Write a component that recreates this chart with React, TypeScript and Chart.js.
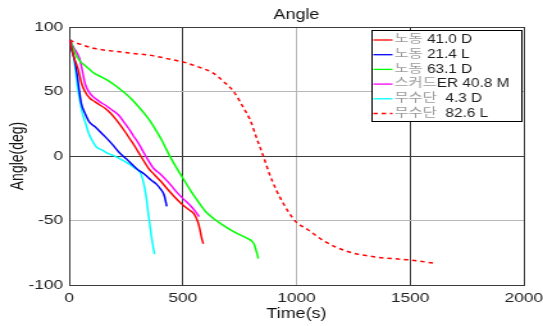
import React, { useEffect, useRef } from "react";
import { Chart, registerables } from "chart.js";

Chart.register(...registerables);

// Series: time (s) and angle (deg) for each trajectory
const t410D = [3, 10, 20, 38, 55, 70, 90, 114, 135, 158, 180, 202, 225, 246, 268, 290, 312, 349, 375, 405, 434, 465, 500, 530, 550, 566, 575, 582, 590];
const a410D = [90, 84, 77, 68, 56, 49.8, 45, 42, 39.5, 37, 33.5, 29.2, 24, 18.8, 13, 7.2, 0.8, -9.5, -14.5, -20, -26, -32, -38, -42, -45, -51, -57, -63, -68];

const t214L = [3, 12, 23, 35, 45, 53, 70, 90, 114, 135, 158, 190, 217, 250, 298, 330, 360, 385, 404, 415, 422, 429];
const a214L = [90, 82, 75, 63, 50, 41, 33, 26, 22.7, 19, 15, 9, 3.3, -2, -10, -14, -18.6, -22, -26, -29, -33, -39];

const t631D = [3, 15, 25, 38, 50, 67, 90, 111, 140, 166, 200, 229, 246, 275, 305, 335, 363, 385, 407, 425, 444, 475, 507, 535, 566, 600, 639, 680, 712, 750, 785, 807, 815, 822, 828, 832];
const a631D = [90, 85, 80, 76, 73, 70.5, 67, 64, 61.5, 59, 55, 51, 48.6, 44, 38.2, 32, 25.3, 19, 12.4, 6, -0.5, -10, -19, -27, -35, -43, -49, -54, -57.5, -61, -64, -66.5, -69, -73, -76.5, -79.5];

const t408M = [3, 20, 45, 58, 70, 90, 114, 135, 158, 190, 217, 240, 261, 283, 305, 334, 371, 404, 440, 478, 510, 536, 555, 572];
const a408M = [90, 84, 76, 66, 56, 49, 44.7, 42, 39.5, 35.5, 31.8, 26.5, 21.5, 15.5, 9.8, 0.8, -9.5, -14.5, -21, -29, -34.5, -39, -43, -47];

const t43D = [3, 12, 23, 38, 50, 60, 70, 85, 100, 120, 144, 165, 188, 215, 246, 270, 290, 309, 322, 331, 340, 346, 353, 360, 368, 375];
const a43D = [90, 82, 73, 52, 40, 32, 26.6, 18, 12.4, 7, 4.7, 2.5, 0.8, -1.5, -4.4, -7, -9.5, -12, -17, -24, -33, -42, -51, -60, -69, -76];

const t826L = [3, 19, 60, 107, 160, 210, 280, 360, 430, 507, 577, 636, 680, 724, 768, 796, 825, 854, 880, 910, 946, 983, 1002, 1049, 1122, 1225, 1356, 1500, 1602];
const a826L = [90, 88.5, 86, 83.5, 82, 81, 79.5, 78, 75.5, 72.6, 68.5, 64, 57.6, 49.8, 37, 28, 13.7, 0, -13.4, -26, -38, -48, -51.7, -57, -66, -74, -78.5, -80.6, -83];

const seriesLabels = ["노동 41.0 D", "노동 21.4 L", "노동 63.1 D", "스커드ER 40.8 M", "무수단  4.3 D", "무수단  82.6 L"];
const seriesColors = ["#ff0000", "#0000ff", "#00ff00", "#ff00ff", "#00ffff", "#ff0000"];

const xTickValues = [0, 500, 1000, 1500, 2000];
const yTickValues = [-100, -50, 0, 50, 100];

const DARK = "#3c3c3c";
const LIGHT = "#b8b8b8";
const HANGUL = /[\u1100-\u11FF\u3130-\u318F\uAC00-\uD7A3]/;
const FONT = "'Liberation Sans', Arial, sans-serif";

const toPoints = (t: number[], a: number[]) => t.map((x, i) => ({ x, y: a[i] }));

// Boxed legend drawn inside the upper-right corner of the plot area
const boxLegend = {
  id: "boxLegend",
  afterDraw(chart: any) {
    const { ctx, chartArea } = chart;
    const right = chartArea.right - 1;
    const width = 118;
    const left = right - width;
    const top = chartArea.top + 3;
    const height = 92;
    ctx.save();
    ctx.fillStyle = "#ffffff";
    ctx.fillRect(left, top, width, height);
    ctx.strokeStyle = "#000000";
    ctx.lineWidth = 1;
    ctx.setLineDash([]);
    ctx.strokeRect(left + 0.5, top + 0.5, width - 1, height - 1);
    ctx.font = "12px 'Liberation Sans', 'Noto Sans CJK KR', sans-serif";
    ctx.textBaseline = "middle";
    ctx.textAlign = "left";
    chart.data.datasets.forEach((ds: any, i: number) => {
      const y = top + 10 + i * 14.7;
      ctx.strokeStyle = ds.borderColor;
      ctx.lineWidth = 1.3;
      ctx.setLineDash(ds.borderDash || []);
      ctx.beginPath();
      ctx.moveTo(left + 1.5, y);
      ctx.lineTo(left + 16.5, y);
      ctx.stroke();
      ctx.setLineDash([]);
      let x = left + 18;
      for (const ch of Array.from(ds.label as string)) {
        ctx.fillStyle = HANGUL.test(ch) ? "#9a9a9a" : "#1e1e1e";
        ctx.fillText(ch, x, y);
        x += ctx.measureText(ch).width;
      }
    });
    ctx.restore();
  },
};

export default function App() {
  const canvasRef = useRef<HTMLCanvasElement | null>(null);

  useEffect(() => {
    document.body.style.margin = "0";
    const canvas = canvasRef.current;
    if (!canvas) return;
    const series = [
      toPoints(t410D, a410D),
      toPoints(t214L, a214L),
      toPoints(t631D, a631D),
      toPoints(t408M, a408M),
      toPoints(t43D, a43D),
      toPoints(t826L, a826L),
    ];
    const chart = new Chart(canvas, {
      type: "line",
      data: {
        datasets: series.map((data, i) => ({
          label: seriesLabels[i],
          data,
          borderColor: seriesColors[i],
          backgroundColor: seriesColors[i],
          borderWidth: 1.5,
          borderDash: i === 5 ? [3.5, 3] : [],
          pointRadius: 0,
          fill: false,
          cubicInterpolationMode: "monotone" as const,
        })),
      },
      options: {
        responsive: false,
        animation: false,
        devicePixelRatio: 1,
        layout: { padding: { left: 0, right: 15, top: 0, bottom: 0 } },
        plugins: {
          legend: { display: false },
          tooltip: { enabled: false },
          title: {
            display: true,
            text: "Angle",
            fullSize: false,
            color: "#111",
            font: { family: FONT, size: 14, weight: "normal" },
            padding: { top: 6.6, bottom: 3.6 },
          },
        },
        scales: {
          x: {
            type: "linear",
            min: 0,
            max: 2000,
            afterFit: (s: any) => { s.height = 41; s.paddingRight = 0; },
            afterBuildTicks: (s: any) => { s.ticks = xTickValues.map((v) => ({ value: v })); },
            ticks: {
              color: "#222",
              padding: 5,
              maxRotation: 0,
              callback: (v: any) => String(v),
              font: { family: FONT, size: 13.5 },
            },
            grid: {
              drawTicks: false,
              lineWidth: 1,
              color: (c: any) => (c.tick && c.tick.value === 1000 ? LIGHT : DARK),
            },
            border: { display: true, color: DARK, width: 1 },
            title: {
              display: true,
              text: "Time(s)",
              color: "#111",
              font: { family: FONT, size: 14 },
              padding: { top: 0, bottom: 3.6 },
            },
          },
          y: {
            type: "linear",
            min: -100,
            max: 100,
            afterFit: (s: any) => { s.width = 54; },
            afterBuildTicks: (s: any) => { s.ticks = yTickValues.map((v) => ({ value: v })); },
            ticks: {
              color: "#222",
              padding: 4.7,
              callback: (v: any) => String(v),
              font: { family: FONT, size: 13.5 },
            },
            grid: {
              drawTicks: false,
              lineWidth: 1,
              color: (c: any) => (c.tick && Math.abs(c.tick.value) === 50 ? LIGHT : DARK),
            },
            border: { display: true, color: DARK, width: 1 },
            title: {
              display: true,
              text: "Angle(deg)",
              color: "#111",
              font: { family: FONT, size: 14 },
              padding: { top: 5.3, bottom: 0 },
            },
          },
        },
      },
      plugins: [boxLegend],
    });
    return () => chart.destroy();
  }, []);

  return (
    <div style={{ width: 543, height: 326, background: "#fff" }}>
      <canvas
        ref={canvasRef}
        width={424}
        height={326}
        style={{ width: "543px", height: "326px", display: "block" }}
      />
    </div>
  );
}
